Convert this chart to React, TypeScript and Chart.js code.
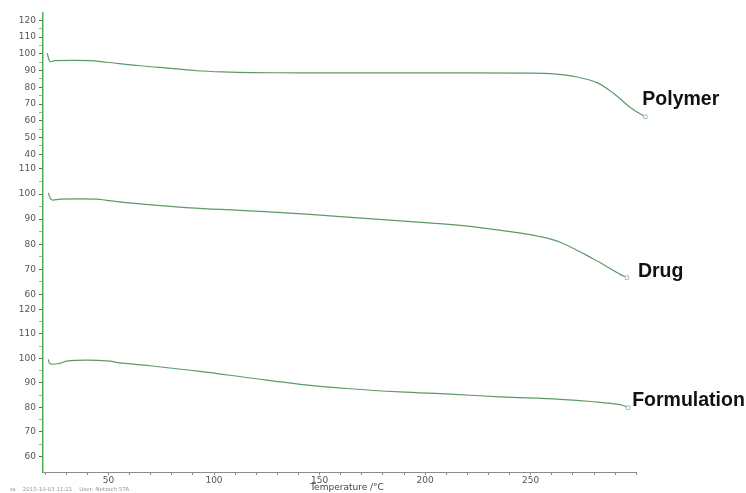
import React, { useEffect, useRef } from 'react';
import { Chart, registerables } from 'chart.js';

Chart.register(...registerables);

// ---- data (temperature °C, mass %) ----
const seriesNames = ['Polymer', 'Drug', 'Formulation'];

const polymerTemp = [21.0, 22.3, 24.6, 41.2, 49.1, 64.9, 80.6, 91.8, 104.0, 118.0, 140.0, 188.2, 250.0, 262.0, 272.0, 281.4, 289.2, 297.2, 304.3];
const polymerMass = [100.4, 95.4, 96.0, 96.0, 95.0, 92.9, 91.2, 89.9, 89.2, 88.8, 88.7, 88.6, 88.5, 87.9, 86.2, 82.8, 76.5, 68.0, 62.4];

const drugTemp = [21.5, 23.1, 27.0, 44.4, 49.1, 64.9, 88.6, 112.3, 136.0, 158.2, 188.2, 216.6, 240.3, 254.5, 264.0, 279.6, 292.4, 295.6];
const drugMass = [100.4, 97.7, 98.0, 98.0, 97.5, 96.1, 94.5, 93.5, 92.4, 91.1, 89.3, 87.5, 85.0, 83.0, 80.8, 74.2, 68.0, 66.7];

const formulationTemp = [21.5, 22.3, 26.2, 30.2, 39.7, 50.7, 54.5, 69.7, 93.4, 117.1, 140.8, 164.5, 188.2, 211.8, 235.5, 264.0, 280.0, 292.4, 296.2];
const formulationMass = [99.6, 97.8, 97.8, 98.9, 99.3, 98.9, 98.3, 97.0, 94.7, 92.0, 89.4, 87.6, 86.3, 85.4, 84.3, 83.3, 82.3, 81.1, 79.9];

// ---- tick labels ----
const temperatureTicks = [20, 30, 40, 50, 60, 70, 80, 90, 100, 110, 120, 130, 140, 150, 160, 170, 180, 190, 200, 210, 220, 230, 240, 250, 260, 270, 280, 290, 300];
const temperatureLabels = [50, 100, 150, 200, 250];
const polymerTicks = [40, 50, 60, 70, 80, 90, 100, 110, 120];
const drugTicks = [60, 70, 80, 90, 100, 110];
const formulationTicks = [60, 70, 80, 90, 100, 110, 120];
const footerText = 'ss    2015-10-03 11:21    User: Netzsch STA';

// ---- styling ----
const LINE_COLOR = '#5c9a66';
const AXIS_GREEN = '#4caf50';
const TICK_FONT = { family: '"DejaVu Sans", Verdana, sans-serif', size: 9 };
const labelOffsets: [number, number][] = [[-3, -17], [11, -6], [4, -7]];

function withMinor(major: number[]) {
  const out: { value: number }[] = [];
  major.forEach((v, i) => {
    out.push({ value: v });
    if (i < major.length - 1) out.push({ value: (v + major[i + 1]) / 2 });
  });
  return out;
}

function yAxis(major: number[], min: number, max: number, weight: number, stackWeight: number) {
  return {
    type: 'linear',
    position: 'left',
    stack: 'tga',
    stackWeight,
    weight,
    min,
    max,
    afterBuildTicks: (s: any) => { s.ticks = withMinor(major); },
    afterFit: (s: any) => { s.width = 43; },
    ticks: {
      autoSkip: false,
      padding: 3,
      color: '#555',
      font: TICK_FONT,
      callback: (v: number) => (major.includes(v) ? String(v) : ''),
    },
    grid: {
      drawOnChartArea: false,
      tickLength: 4,
      tickColor: (c: any) => (c.tick && major.includes(c.tick.value) ? '#666' : '#aaa'),
    },
    border: { color: AXIS_GREEN, width: 1.5 },
  };
}

const annotatePlugin = {
  id: 'annotate',
  beforeDatasetsDraw(chart: any) {
    const ctx = chart.ctx;
    const xs = chart.scales.x;
    ctx.save();
    ctx.strokeStyle = '#8c8c8c';
    ctx.lineWidth = 1.2;
    ctx.beginPath();
    ctx.moveTo(xs.left, xs.top + 0.5);
    ctx.lineTo(xs.getPixelForValue(temperatureTicks[temperatureTicks.length - 1]), xs.top + 0.5);
    ctx.stroke();
    ctx.restore();
  },
  afterDatasetsDraw(chart: any) {
    const ctx = chart.ctx;
    ctx.save();
    chart.data.datasets.forEach((ds: any, i: number) => {
      const meta = chart.getDatasetMeta(i);
      const last = meta.data[meta.data.length - 1];
      const off = labelOffsets[i];
      ctx.font = 'bold 19.5px "Liberation Sans", Arial, sans-serif';
      ctx.fillStyle = '#111';
      ctx.textBaseline = 'middle';
      ctx.textAlign = 'left';
      ctx.fillText(ds.label, last.x + off[0], last.y + off[1]);
    });
    ctx.font = '5.5px "DejaVu Sans", sans-serif';
    ctx.fillStyle = '#9a9a9a';
    ctx.textBaseline = 'middle';
    ctx.fillText(footerText, 10, chart.height - 3);
    ctx.restore();
  },
};

function makeDataset(label: string, temps: number[], mass: number[], axis: string) {
  return {
    label,
    data: temps.map((t, i) => ({ x: t, y: mass[i] })),
    yAxisID: axis,
    borderColor: LINE_COLOR,
    borderWidth: 1.2,
    tension: 0.35,
    pointStyle: 'rect',
    pointRadius: (c: any) => (c.dataIndex === temps.length - 1 ? 2.5 : 0),
    pointBorderWidth: 0.8,
    pointBorderColor: '#8fb894',
    pointBackgroundColor: '#ffffff',
    fill: false,
  };
}

export default function App() {
  const ref = useRef<HTMLCanvasElement | null>(null);

  useEffect(() => {
    if (!ref.current) return;
    const chart = new Chart(ref.current, {
      type: 'line',
      data: {
        datasets: [
          makeDataset(seriesNames[0], polymerTemp, polymerMass, 'y1'),
          makeDataset(seriesNames[1], drugTemp, drugMass, 'y2'),
          makeDataset(seriesNames[2], formulationTemp, formulationMass, 'y3'),
        ] as any,
      },
      options: {
        animation: false,
        responsive: false,
        devicePixelRatio: 1,
        layout: { padding: { left: 0, top: 13, right: 95, bottom: 0 } },
        plugins: { legend: { display: false }, tooltip: { enabled: false } },
        scales: {
          x: {
            type: 'linear',
            min: 19,
            max: 307,
            afterBuildTicks: (s: any) => { s.ticks = temperatureTicks.map((v) => ({ value: v })); },
            afterFit: (s: any) => { s.height = 21; },
            ticks: {
              autoSkip: false,
              maxRotation: 0,
              padding: 0,
              color: '#555',
              font: TICK_FONT,
              callback: (v: number) => (temperatureLabels.includes(v) ? String(v) : ''),
            },
            grid: { drawOnChartArea: false, tickLength: 3, tickColor: '#888' },
            border: { display: false },
            title: {
              display: true,
              text: 'Temperature /°C',
              color: '#444',
              font: TICK_FONT,
              padding: 0,
            },
          },
          y1: yAxis(polymerTicks, 35.0, 124.4, 3, 149.7),
          y2: yAxis(drugTicks, 57.1, 112.5, 2, 139),
          y3: yAxis(formulationTicks, 53.6, 123.15, 1, 170.3),
        } as any,
      },
      plugins: [annotatePlugin],
    });
    return () => chart.destroy();
  }, []);

  return (
    <div style={{ position: 'fixed', left: 0, top: 0, width: 746, height: 493, background: '#fff' }}>
      <canvas ref={ref} width={746} height={493} style={{ display: 'block' }} />
    </div>
  );
}
